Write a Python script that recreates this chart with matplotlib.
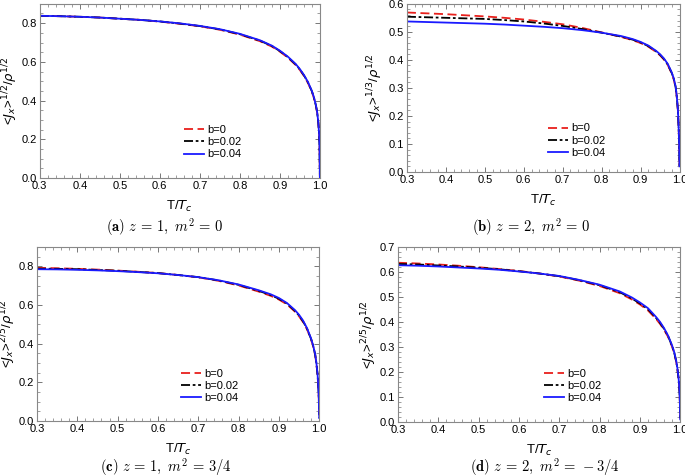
import matplotlib
matplotlib.use("Agg")
import matplotlib.pyplot as plt
from matplotlib.ticker import MultipleLocator

plt.rcParams['font.family'] = ['Liberation Sans', 'DejaVu Sans']

# ---- data ----
T = [0.30, 0.35, 0.40, 0.45, 0.50, 0.55, 0.60, 0.65, 0.70, 0.75, 0.80, 0.85,
     0.88, 0.90, 0.92, 0.94, 0.95, 0.96, 0.97, 0.98, 0.985, 0.99, 0.993,
     0.996, 0.998, 0.999, 1.0]

labels = ["b=0", "b=0.02", "b=0.04"]

# (a) z=1, m^2=0
a_b0 = [0.838, 0.836, 0.833, 0.829, 0.823, 0.817, 0.808, 0.797, 0.784, 0.766, 0.741, 0.707,
        0.679, 0.653, 0.622, 0.583, 0.558, 0.528, 0.492, 0.446, 0.414, 0.373, 0.340,
        0.287, 0.228, 0.168, 0.0]
a_b002 = [0.838, 0.836, 0.833, 0.829, 0.823, 0.817, 0.809, 0.798, 0.785, 0.768, 0.743, 0.710,
          0.682, 0.656, 0.625, 0.586, 0.561, 0.531, 0.495, 0.448, 0.416, 0.375, 0.342,
          0.289, 0.229, 0.169, 0.0]
a_b004 = [0.838, 0.836, 0.833, 0.829, 0.823, 0.817, 0.809, 0.799, 0.786, 0.769, 0.745, 0.712,
          0.684, 0.658, 0.627, 0.588, 0.563, 0.533, 0.497, 0.450, 0.418, 0.377, 0.343,
          0.290, 0.230, 0.170, 0.0]

# (b) z=2, m^2=0
b_b0 = [0.569, 0.566, 0.563, 0.559, 0.555, 0.550, 0.544, 0.536, 0.527, 0.514, 0.498, 0.482,
        0.470, 0.460, 0.447, 0.428, 0.416, 0.401, 0.381, 0.351, 0.331, 0.301, 0.267,
        0.217, 0.148, 0.098, 0.02]
b_b002 = [0.554, 0.552, 0.550, 0.548, 0.546, 0.542, 0.537, 0.530, 0.521, 0.510, 0.497, 0.483,
          0.472, 0.462, 0.449, 0.430, 0.418, 0.403, 0.383, 0.353, 0.333, 0.303, 0.268,
          0.218, 0.149, 0.099, 0.02]
b_b004 = [0.537, 0.535, 0.533, 0.531, 0.529, 0.526, 0.522, 0.518, 0.513, 0.506, 0.497, 0.485,
          0.474, 0.464, 0.451, 0.432, 0.420, 0.405, 0.385, 0.355, 0.335, 0.305, 0.270,
          0.220, 0.150, 0.100, 0.02]

# (c) z=1, m^2=3/4
c_b0 = [0.792, 0.790, 0.787, 0.783, 0.778, 0.772, 0.765, 0.755, 0.743, 0.725, 0.701, 0.669,
        0.647, 0.628, 0.603, 0.565, 0.541, 0.511, 0.473, 0.420, 0.385, 0.340, 0.296,
        0.236, 0.167, 0.118, 0.015]
c_b002 = [0.788, 0.787, 0.785, 0.781, 0.777, 0.771, 0.765, 0.755, 0.744, 0.727, 0.704, 0.673,
          0.651, 0.632, 0.607, 0.569, 0.545, 0.515, 0.476, 0.423, 0.388, 0.343, 0.298,
          0.238, 0.169, 0.119, 0.015]
c_b004 = [0.785, 0.784, 0.782, 0.779, 0.775, 0.770, 0.764, 0.755, 0.744, 0.728, 0.706, 0.676,
          0.655, 0.636, 0.610, 0.573, 0.549, 0.519, 0.479, 0.425, 0.390, 0.345, 0.300,
          0.240, 0.170, 0.120, 0.015]

# (d) z=2, m^2=-3/4
d_b0 = [0.637, 0.634, 0.630, 0.625, 0.619, 0.612, 0.604, 0.594, 0.582, 0.565, 0.544, 0.515,
        0.490, 0.470, 0.446, 0.412, 0.392, 0.368, 0.340, 0.300, 0.276, 0.241, 0.211,
        0.172, 0.128, 0.089, 0.01]
d_b002 = [0.632, 0.630, 0.626, 0.622, 0.617, 0.611, 0.603, 0.594, 0.583, 0.567, 0.547, 0.519,
          0.494, 0.474, 0.451, 0.416, 0.396, 0.372, 0.343, 0.303, 0.278, 0.243, 0.213,
          0.174, 0.129, 0.090, 0.01]
d_b004 = [0.627, 0.625, 0.622, 0.618, 0.614, 0.609, 0.602, 0.594, 0.584, 0.568, 0.549, 0.522,
          0.498, 0.478, 0.455, 0.420, 0.400, 0.375, 0.345, 0.305, 0.280, 0.245, 0.215,
          0.175, 0.130, 0.090, 0.01]

panels = [
    dict(pos=[0.058, 0.625, 0.409, 0.367], series=[a_b0, a_b002, a_b004], ylim=(0, 0.9),
         ymaj=0.2, ymin=0.05, ylab=r'<$J_x$>$^{1/2}$/$\rho^{1/2}$', ylx=-0.071,
         cap=r'$\mathbf{(a)}\ z\,=\,1,\ m^2\,=\,0$', capxy=(0.240, 0.522), leg=(0.50, 0.33)),
    dict(pos=[0.594, 0.638, 0.398, 0.354], series=[b_b0, b_b002, b_b004], ylim=(0, 0.6),
         ymaj=0.1, ymin=0.02, ylab=r'<$J_x$>$^{1/3}$/$\rho^{1/2}$', ylx=-0.08,
         cap=r'$\mathbf{(b)}\ z\,=\,2,\ m^2\,=\,0$', capxy=(0.775, 0.522), leg=(0.50, 0.315)),
    dict(pos=[0.054, 0.114, 0.412, 0.366], series=[c_b0, c_b002, c_b004], ylim=(0, 0.9),
         ymaj=0.2, ymin=0.05, ylab=r'<$J_x$>$^{2/5}$/$\rho^{1/2}$', ylx=-0.068,
         cap=r'$\mathbf{(c)}\ z\,=\,1,\ m^2\,=\,3/4$', capxy=(0.242, 0.016), leg=(0.495, 0.325)),
    dict(pos=[0.581, 0.112, 0.412, 0.368], series=[d_b0, d_b002, d_b004], ylim=(0, 0.7),
         ymaj=0.1, ymin=0.02, ylab=r'<$J_x$>$^{2/5}$/$\rho^{1/2}$', ylx=-0.068,
         cap=r'$\mathbf{(d)}\ z\,=\,2,\ m^2\,=\,-3/4$', capxy=(0.795, 0.016), leg=(0.50, 0.33)),
]

styles = [dict(color='#e8201c', ls=(0, (5, 2.5)), lw=1.3),
          dict(color='black', ls=(0, (5, 1.5, 1.5, 1.5)), lw=1.3),
          dict(color='#1a1aff', ls='-', lw=1.3)]

fig = plt.figure(figsize=(6.85, 4.75), dpi=100)

for p in panels:
    ax = fig.add_axes(p['pos'])
    for s, lab, st in zip(p['series'], labels, styles):
        ax.plot(T, s, label=lab, **st)
    ax.set_xlim(0.3, 1.0)
    ax.set_ylim(*p['ylim'])
    ax.xaxis.set_major_locator(MultipleLocator(0.1))
    ax.xaxis.set_minor_locator(MultipleLocator(0.02))
    ax.yaxis.set_major_locator(MultipleLocator(p['ymaj']))
    ax.yaxis.set_minor_locator(MultipleLocator(p['ymin']))
    ax.tick_params(which='both', direction='in', top=True, right=True,
                   color='#777777', labelsize=8, pad=2)
    ax.tick_params(which='major', length=3.5, width=0.7)
    ax.tick_params(which='minor', length=2, width=0.5)
    for sp in ax.spines.values():
        sp.set_color('#888888')
        sp.set_linewidth(0.8)
    ax.set_xlabel(r'T/$T_c$', fontsize=9.5, labelpad=6, math_fontfamily='dejavusans')
    ax.set_ylabel(p['ylab'], fontsize=9.5, math_fontfamily='dejavusans')
    ax.yaxis.set_label_coords(p['ylx'], 0.5)
    ax.legend(loc='upper left', bbox_to_anchor=p['leg'], frameon=False,
              fontsize=8, handlelength=1.8, handletextpad=0.3,
              labelspacing=0.2, borderaxespad=0)
    fig.text(p['capxy'][0], p['capxy'][1], p['cap'], ha='center', va='center',
             fontsize=10.5, math_fontfamily='cm')

fig.savefig('out.png', dpi=100)
